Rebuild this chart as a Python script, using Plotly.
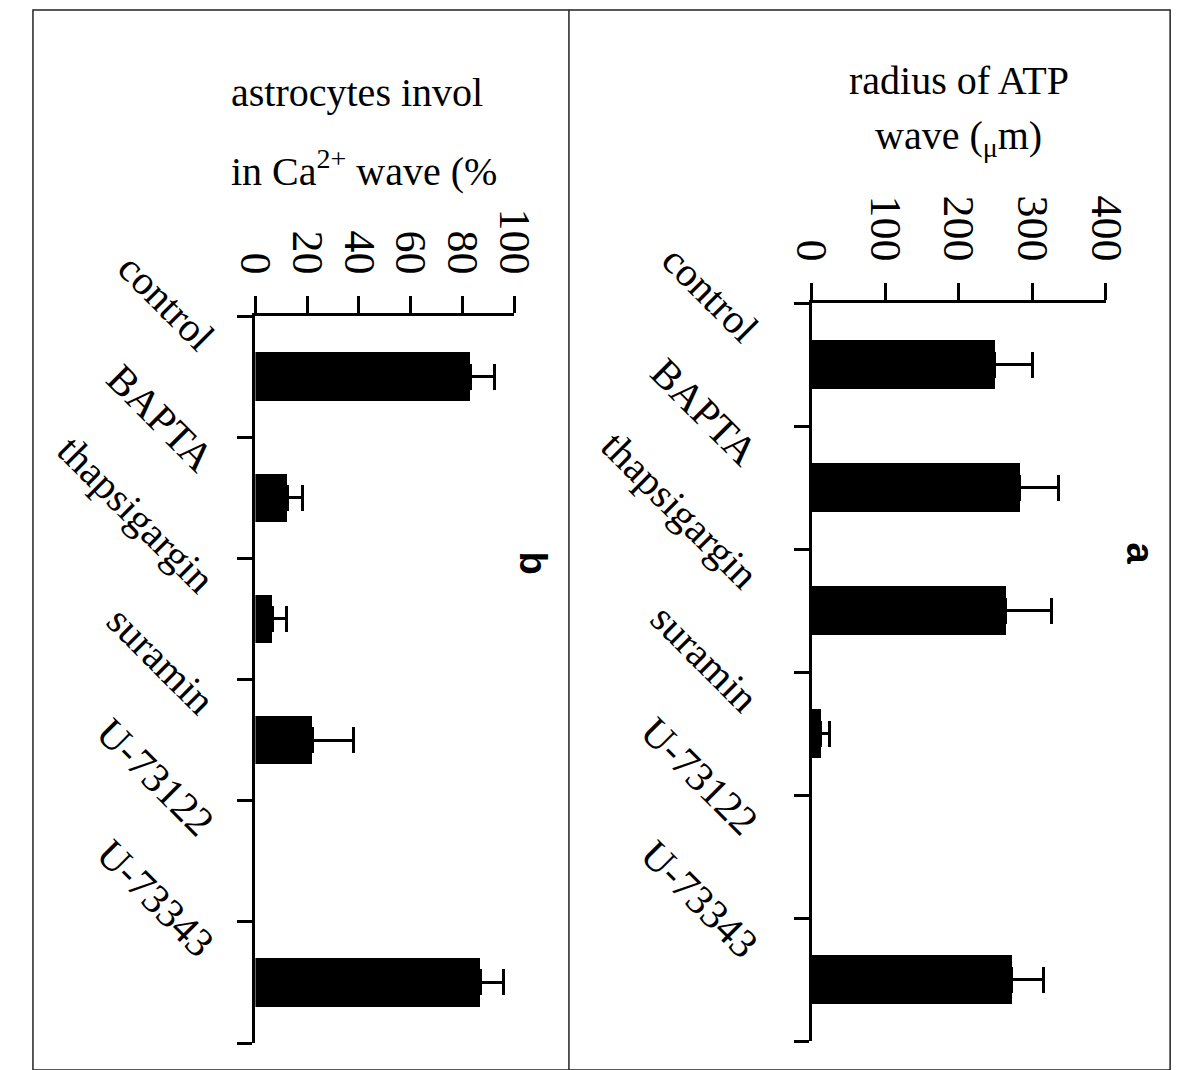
import plotly.graph_objects as go

# ---------------- data ----------------
categories = ["control", "BAPTA", "thapsigargin", "suramin", "U-73122", "U-73343"]
radius_mean = [248, 283, 263, 12, None, 272]       # radius of ATP wave (µm); no bar for U-73122
radius_err = [52, 52, 63, 13, None, 43]
astro_mean = [83, 12.5, 6.5, 22, None, 87]         # astrocytes involved (%); no bar for U-73122
astro_err = [9.5, 5.5, 5.5, 16, None, 9]
radius_ticks = [0, 100, 200, 300, 400]
astro_ticks = [0, 20, 40, 60, 80, 100]

W, H = 1190, 1070
SERIF = "Liberation Serif, Times New Roman, serif"
pos = list(range(len(categories)))
bounds = [i - 0.5 for i in range(len(categories) + 1)]

def px_x(a, b):
    return [a / W, b / W]

def px_y(top, bottom):
    return [1 - bottom / H, 1 - top / H]

fig = go.Figure()

def add_bars(vals, errs, xa, ya):
    fig.add_trace(go.Bar(
        x=vals, y=pos, orientation="h", width=0.4,
        marker=dict(color="black", line=dict(width=0)),
        error_x=dict(type="data", symmetric=False, array=errs,
                     arrayminus=[0 if e is not None else None for e in errs],
                     thickness=3, width=13, color="black"),
        xaxis=xa, yaxis=ya, showlegend=False, hoverinfo="skip"))

add_bars(astro_mean, astro_err, "x", "y")
add_bars(radius_mean, radius_err, "x2", "y2")

xcommon = dict(side="top", showline=True, linewidth=3, linecolor="black",
               ticks="outside", ticklen=17, tickwidth=3, tickcolor="black",
               tickangle=90, tickfont=dict(family=SERIF, size=44, color="black"),
               showgrid=False, zeroline=False, ticklabelstandoff=6)
ycommon = dict(showline=True, linewidth=3, linecolor="black", ticks="outside",
               ticklen=15, tickwidth=3, tickcolor="black", tickmode="array",
               tickvals=bounds, showticklabels=False, showgrid=False,
               zeroline=False, range=[len(categories) - 0.5, -0.5])

fig.update_layout(
    width=W, height=H, margin=dict(l=0, r=0, t=0, b=0),
    paper_bgcolor="white", plot_bgcolor="white", showlegend=False,
    bargap=0,
    xaxis=dict(domain=px_x(233, 503), range=[0, 100], anchor="y",
               tickmode="array", tickvals=astro_ticks, **xcommon),
    yaxis=dict(domain=px_y(308, 1035), anchor="x", **ycommon),
    xaxis2=dict(domain=px_x(813, 1120), range=[0, 400], anchor="y2",
                tickmode="array", tickvals=radius_ticks, **xcommon),
    yaxis2=dict(domain=px_y(295, 1033), anchor="x2", **ycommon),
)

ann = []
# category labels (rotated 45 degrees)
for i, c in enumerate(categories):
    ann.append(dict(text=c, x=0, y=i, xref="x", yref="y", xanchor="right",
                    yanchor="bottom", xshift=-29, yshift=14, textangle=45,
                    showarrow=False,
                    font=dict(family=SERIF, size=41, color="black")))
    ann.append(dict(text=c, x=0, y=i, xref="x2", yref="y2", xanchor="right",
                    yanchor="bottom", xshift=-41, yshift=10, textangle=45,
                    showarrow=False,
                    font=dict(family=SERIF, size=41, color="black")))

# titles
tfont = dict(family=SERIF, size=40, color="black")
ann += [
    dict(text="radius of ATP", x=850 / W, y=1 - 72 / H, xref="paper", yref="paper",
         xanchor="left", yanchor="middle", showarrow=False, font=tfont),
    dict(text="wave (<sub>μ</sub>m)", x=877 / W, y=1 - 130 / H, xref="paper",
         yref="paper", xanchor="left", yanchor="middle", showarrow=False, font=tfont),
    dict(text="astrocytes invol", x=205 / W, y=1 - 85 / H, xref="paper", yref="paper",
         xanchor="left", yanchor="middle", showarrow=False, font=tfont),
    dict(text="in Ca<sup>2+</sup> wave (%", x=205 / W, y=1 - 160 / H, xref="paper",
         yref="paper", xanchor="left", yanchor="middle", showarrow=False, font=tfont),
    dict(text="<b>a</b>", x=1156 / W, y=1 - 546 / H, xref="paper", yref="paper",
         xanchor="center", yanchor="middle", textangle=90, showarrow=False,
         font=dict(family="Liberation Sans, Arial, sans-serif", size=38, color="black")),
    dict(text="<b>b</b>", x=523 / W, y=1 - 555 / H, xref="paper", yref="paper",
         xanchor="center", yanchor="middle", textangle=90, showarrow=False,
         font=dict(family="Liberation Sans, Arial, sans-serif", size=38, color="black")),
]
fig.update_layout(annotations=ann)

# frame and divider
fig.update_layout(shapes=[
    dict(type="rect", xref="paper", yref="paper", x0=1 / W, x1=1 - 3 / W,
         y0=1 - 1062 / H, y1=1 - 2 / H, line=dict(color="#222", width=1.5)),
    dict(type="line", xref="paper", yref="paper", x0=560 / W, x1=560 / W,
         y0=1 - 1062 / H, y1=1 - 2 / H, line=dict(color="#222", width=1.5)),
])

fig.write_html("out.html")
